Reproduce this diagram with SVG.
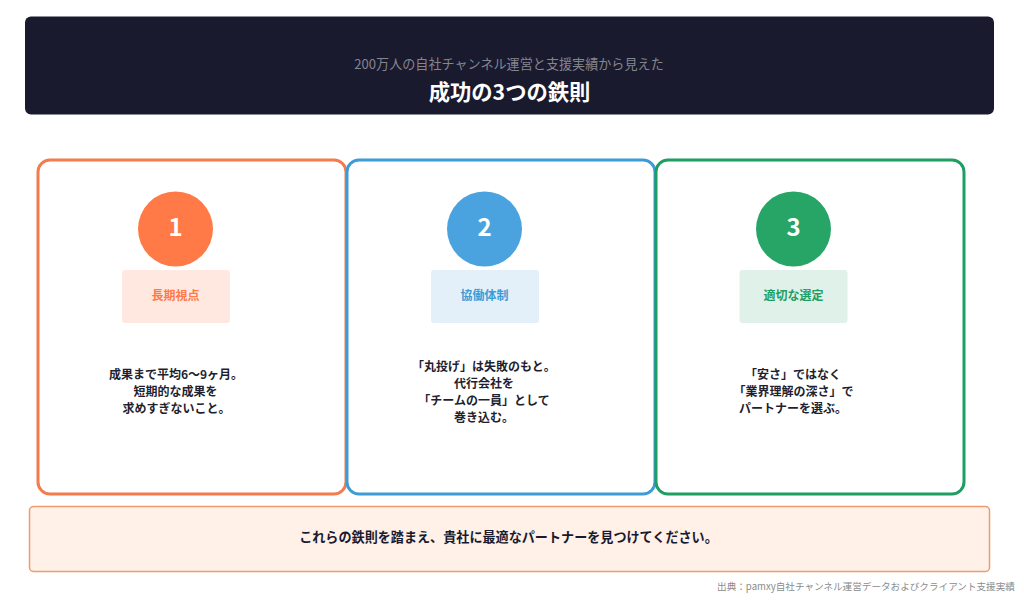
<svg xmlns="http://www.w3.org/2000/svg" width="1024" height="600" viewBox="0 0 1024 600">
<style>
text{font-family:"Noto Sans CJK JP","Noto Sans",sans-serif;text-anchor:middle}
.card{fill:#fff;stroke-width:3}
.num{font-size:24px;font-weight:700;fill:#fff}
.lab{font-size:12px;font-weight:700}
.body{font-size:12px;font-weight:700;fill:#1f1f30}
</style>
<rect width="1024" height="600" fill="#fff"/>
<g id="header">
<rect x="25" y="16.500" width="969" height="98" rx="6" fill="#1a1a2e"/>
<text x="509" y="69" font-size="13.100" fill="#85858f">200万人の自社チャンネル運営と支援実績から見えた</text>
<text x="509.500" y="100" font-size="21.300" font-weight="700" fill="#fff">成功の3つの鉄則</text>
</g>
<g id="connectors"/>
<g id="card1">
<rect class="card" x="38" y="160" width="308" height="334" rx="12" stroke="#f47b4b"/>
<circle cx="175.500" cy="229" r="37.500" fill="#ff7a47"/>
<text class="num" x="175.500" y="236">1</text>
<rect x="122" y="270" width="108" height="53" rx="3" fill="#ffe8e0"/>
<text class="lab" x="175.500" y="300" fill="#ff7a47">長期視点</text>
<text class="body" x="176" y="379">成果まで平均6〜9ヶ月。</text>
<text class="body" x="175.500" y="396">短期的な成果を</text>
<text class="body" x="176.500" y="413">求めすぎないこと。</text>
</g>
<g id="card2">
<rect class="card" x="347" y="160" width="308" height="334" rx="12" stroke="#3d9bd6"/>
<circle cx="484.500" cy="229" r="37.500" fill="#4aa3df"/>
<text class="num" x="484.500" y="236">2</text>
<rect x="431" y="270" width="108" height="53" rx="3" fill="#e3f0fa"/>
<text class="lab" x="484.500" y="300" fill="#3d9bd6">協働体制</text>
<text class="body" x="484" y="371">「丸投げ」は失敗のもと。</text>
<text class="body" x="484" y="388">代行会社を</text>
<text class="body" x="484" y="405">「チームの一員」として</text>
<text class="body" x="484" y="422">巻き込む。</text>
</g>
<g id="card3">
<rect class="card" x="656" y="160" width="308" height="334" rx="12" stroke="#1f9e62"/>
<circle cx="793.500" cy="229" r="37.500" fill="#27a567"/>
<text class="num" x="793.500" y="236">3</text>
<rect x="739.500" y="270" width="108" height="53" rx="3" fill="#dff1e8"/>
<text class="lab" x="793.500" y="300" fill="#1f9e62">適切な選定</text>
<text class="body" x="793" y="379">「安さ」ではなく</text>
<text class="body" x="793.500" y="396">「業界理解の深さ」で</text>
<text class="body" x="793" y="413">パートナーを選ぶ。</text>
</g>
<g id="callout">
<rect x="29.500" y="506.500" width="960" height="65" rx="4" fill="#fff0e8" stroke="#f09a70" stroke-width="1.500"/>
<text x="508.500" y="542" font-size="13.100" font-weight="700" fill="#1a1a2e">これらの鉄則を踏まえ、貴社に最適なパートナーを見つけてください。</text>
</g>
<text id="source" x="866" y="590" font-size="9.600" fill="#8c8c8c">出典：pamxy自社チャンネル運営データおよびクライアント支援実績</text>
</svg>
